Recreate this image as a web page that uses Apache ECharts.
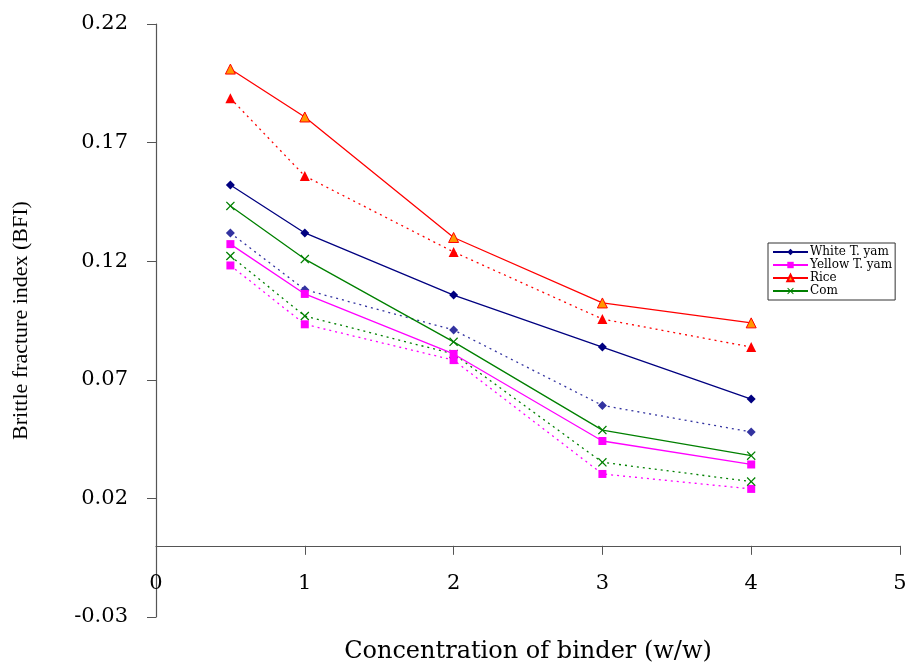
<!DOCTYPE html>
<html lang="en">
<head>
    <meta charset="UTF-8">
    <title>Brittle fracture index</title>
    <script src="https://cdn.jsdelivr.net/npm/echarts@6/dist/echarts.min.js"></script>
    <style>
        html, body { margin: 0; padding: 0; background: #fff; }
        #chart { width: 909px; height: 663px; }
    </style>
</head>
<body>
<div id="chart"></div>
<script>
    // binder concentration (w/w)
    const conc = [0.5, 1, 2, 3, 4];

    // solid lines (legend series)
    const whiteYam = [0.1521, 0.1319, 0.1057, 0.0838, 0.0619];
    const yellowYam = [0.1272, 0.1062, 0.0809, 0.0442, 0.0343];
    const rice = [0.2010, 0.1808, 0.1300, 0.1024, 0.0940];
    const corn = [0.1433, 0.1209, 0.0860, 0.0488, 0.0380];

    // dotted lines (second set, not in legend)
    const whiteYam2 = [0.1319, 0.1080, 0.0910, 0.0592, 0.0480];
    const yellowYam2 = [0.1182, 0.0934, 0.0783, 0.0303, 0.0240];
    const rice2 = [0.1887, 0.1559, 0.1239, 0.0956, 0.0838];
    const corn2 = [0.1222, 0.0969, 0.0809, 0.0352, 0.0271];

    const yTicks = [-0.03, 0.02, 0.07, 0.12, 0.17, 0.22];

    const xMark = 'path://M0,1L1,0L5,4L9,0L10,1L6,5L10,9L9,10L5,6L1,10L0,9L4,5Z';
    const pairs = v => conc.map((c, i) => [c, v[i]]);

    function line(name, vals, color, symbol, size, dotted, fill) {
        return {
            name: name,
            type: 'line',
            data: pairs(vals),
            symbol: symbol,
            symbolSize: size,
            showSymbol: true,
            lineStyle: { color: color, width: 1.3, type: dotted ? [2, 4] : 'solid' },
            itemStyle: { color: fill || color, borderColor: color, borderWidth: fill ? 1 : 0 },
            emphasis: { disabled: true },
            z: dotted ? 2 : 3
        };
    }

    const chart = echarts.init(document.getElementById('chart'));
    chart.setOption({
        animation: false,
        textStyle: { fontFamily: 'DejaVu Serif' },
        grid: { left: 156, right: 9, top: 24, bottom: 46, containLabel: false, outerBoundsMode: 'none' },
        legend: {
            data: ['White T. yam', 'Yellow T. yam', 'Rice', 'Com'],
            orient: 'vertical',
            left: 768,
            top: 243,
            padding: [3, 3, 3, 4],
            itemGap: 1,
            itemWidth: 35,
            itemHeight: 8,
            borderColor: '#333',
            borderWidth: 1,
            backgroundColor: '#fff',
            textStyle: { fontFamily: 'DejaVu Serif', fontSize: 12, lineHeight: 11, color: '#000', padding: [0, 0, 0, -3] }
        },
        xAxis: {
            type: 'value',
            min: 0,
            max: 5,
            interval: 1,
            name: 'Concentration of binder (w/w)',
            nameLocation: 'middle',
            nameGap: 23,
            nameTextStyle: { fontFamily: 'DejaVu Serif', fontSize: 24, color: '#000' },
            axisLine: { onZero: true, lineStyle: { color: '#555', width: 1.2 } },
            axisTick: { show: true, length: 9, lineStyle: { color: '#555' } },
            axisLabel: { margin: -44, fontSize: 21, color: '#000', fontFamily: 'DejaVu Serif' },
            splitLine: { show: false }
        },
        yAxis: {
            type: 'value',
            min: -0.03,
            max: 0.22,
            name: 'Brittle fracture index (BFI)',
            nameLocation: 'middle',
            nameGap: 124,
            nameTextStyle: { fontFamily: 'Liberation Serif', fontSize: 22, color: '#000' },
            axisLine: { show: true, onZero: false, lineStyle: { color: '#555', width: 1.2 } },
            axisTick: { show: true, length: 9, customValues: yTicks, lineStyle: { color: '#555' } },
            axisLabel: {
                customValues: yTicks,
                margin: 28,
                fontSize: 21,
                color: '#000',
                fontFamily: 'DejaVu Serif',
                formatter: v => v.toFixed(2)
            },
            splitLine: { show: false }
        },
        series: [
            line('White T. yam 2', whiteYam2, '#3333a0', 'diamond', 9, true),
            line('Yellow T. yam 2', yellowYam2, '#ff00ff', 'rect', 8, true),
            line('Rice 2', rice2, '#ff0000', 'triangle', 10, true),
            line('Com 2', corn2, '#008000', xMark, 9, true),
            line('White T. yam', whiteYam, '#000080', 'diamond', 9, false),
            line('Yellow T. yam', yellowYam, '#ff00ff', 'rect', 8, false),
            line('Rice', rice, '#ff0000', 'triangle', 10, false, '#ff9900'),
            line('Com', corn, '#008000', xMark, 9, false)
        ]
    });
</script>
</body>
</html>
